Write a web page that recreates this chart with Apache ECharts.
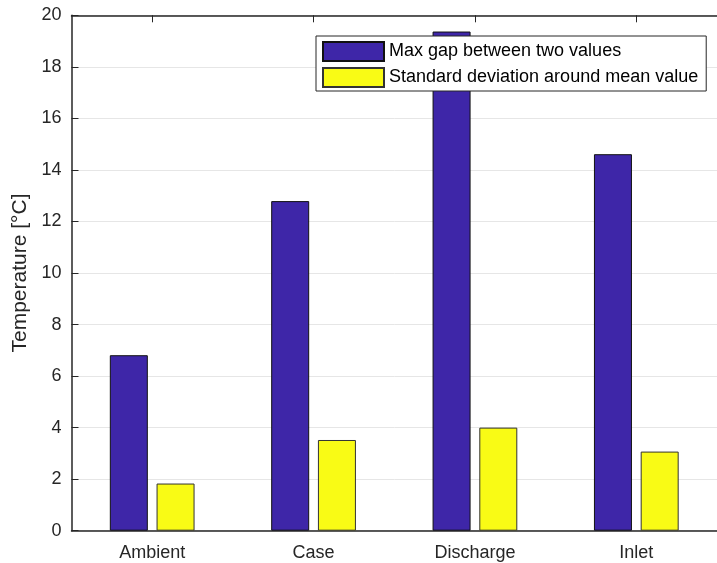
<!DOCTYPE html>
<html>
<head>
<meta charset="utf-8">
<script src="https://cdn.jsdelivr.net/npm/echarts@6/dist/echarts.min.js"></script>
<style>html,body{margin:0;padding:0;background:#fff;}#c{width:717px;height:563px;}</style>
</head>
<body>
<div id="c"></div>
<script>
var categories = ['Ambient', 'Case', 'Discharge', 'Inlet'];
var maxGap = [6.81, 12.79, 19.37, 14.61];
var stdDev = [1.83, 3.52, 4.0, 3.07];
var seriesNames = ['Max gap between two values', 'Standard deviation around mean value'];
var yTicksMin = 0, yTicksMax = 20, yTickStep = 2;

var FONT = '"Liberation Sans", Arial, Helvetica, sans-serif';
var TXT = '#262626';
var chart = echarts.init(document.getElementById('c'), null, {renderer: 'canvas'});
chart.setOption({
  animation: false,
  backgroundColor: '#ffffff',
  textStyle: {fontFamily: FONT, color: TXT},
  grid: {left: 71.5, right: -7.2, top: 15.3, bottom: 32.3, containLabel: false},
  legend: {
    orient: 'vertical',
    left: 316, top: 36,
    padding: [5, 8, 3, 6],
    itemWidth: 61, itemHeight: 19, itemGap: 5,
    backgroundColor: '#ffffff',
    borderColor: '#262626', borderWidth: 1, borderRadius: 0,
    icon: 'rect',
    textStyle: {fontSize: 18, lineHeight: 19, color: '#000', fontFamily: FONT},
    data: seriesNames
  },
  xAxis: [{
    type: 'category', data: categories, position: 'bottom',
    axisLine: {lineStyle: {color: TXT, width: 1.5}},
    axisTick: {inside: true, alignWithLabel: true, length: 7, lineStyle: {color: TXT}},
    axisLabel: {fontSize: 18, color: TXT, margin: 13, fontFamily: FONT},
    splitLine: {show: false}
  }, {
    type: 'category', data: categories, position: 'top',
    axisLine: {show: true, lineStyle: {color: TXT, width: 1.5}},
    axisTick: {show: true, inside: true, alignWithLabel: true, length: 7, lineStyle: {color: TXT}},
    axisLabel: {show: false},
    splitLine: {show: false}
  }],
  yAxis: [{
    type: 'value', min: yTicksMin, max: yTicksMax, interval: yTickStep,
    name: 'Temperature [°C]', nameLocation: 'middle', nameGap: 40,
    nameTextStyle: {fontSize: 21, color: TXT, fontFamily: FONT},
    axisLine: {show: true, lineStyle: {color: TXT, width: 1.5}},
    axisTick: {show: true, inside: true, length: 7, lineStyle: {color: TXT}},
    axisLabel: {fontSize: 18, color: TXT, margin: 10, fontFamily: FONT},
    splitLine: {show: true, lineStyle: {color: '#e6e6e6', width: 1}}
  }],
  series: [{
    name: seriesNames[0], type: 'bar', data: maxGap,
    barWidth: 38, barGap: '23%',
    itemStyle: {color: '#3e26a8', borderColor: '#111', borderWidth: 1}
  }, {
    name: seriesNames[1], type: 'bar', data: stdDev,
    barWidth: 38, barGap: '23%',
    itemStyle: {color: '#f9fb15', borderColor: '#333', borderWidth: 1}
  }]
});
</script>
</body>
</html>
